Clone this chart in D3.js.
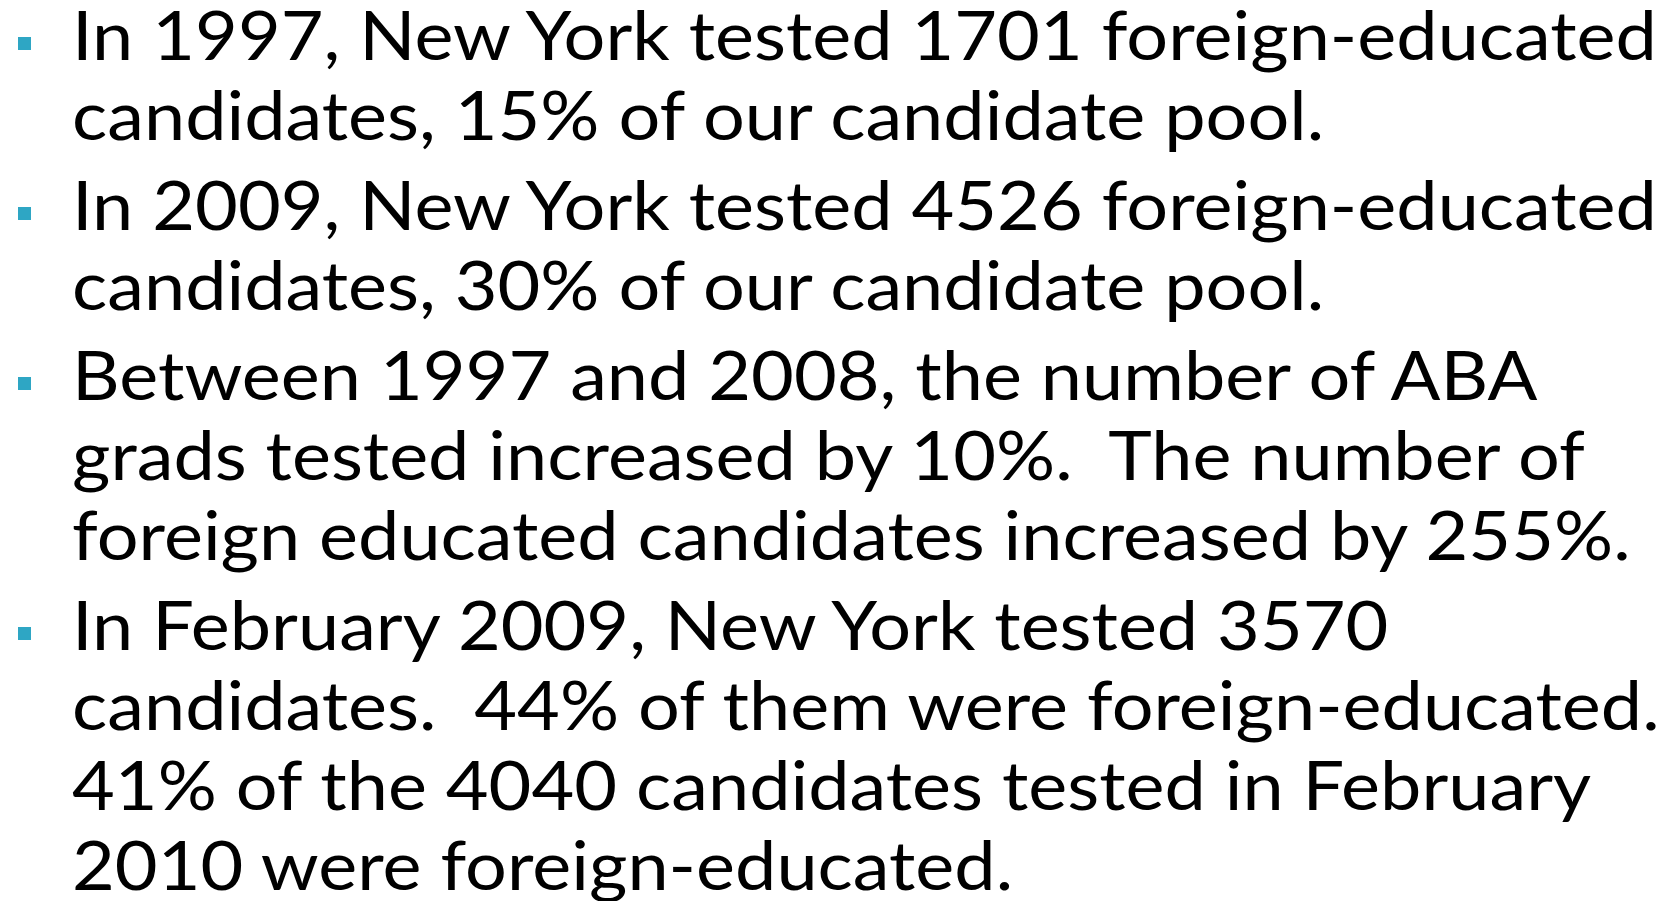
<!DOCTYPE html>
<html>
	<head>
		<style>
			html, body {
				margin: 0;
				padding: 0;
				background: #fff;
			}

			#slide {
				display: block;
			}
		</style>
	</head>
	<body>
		<svg id="slide" width="1679" height="901"></svg>
		<script src="https://cdnjs.cloudflare.com/ajax/libs/d3/7.8.5/d3.min.js"></script>

		<script>
			// each bullet is a list of its wrapped lines
			let bullet1 = [
				'In 1997, New York tested 1701 foreign-educated',
				'candidates, 15% of our candidate pool.',
			];
			let bullet2 = [
				'In 2009, New York tested 4526 foreign-educated',
				'candidates, 30% of our candidate pool.',
			];
			let bullet3 = [
				'Between 1997 and 2008, the number of ABA',
				'grads tested increased by 10%.  The number of',
				'foreign educated candidates increased by 255%.',
			];
			let bullet4 = [
				'In February 2009, New York tested 3570',
				'candidates.  44% of them were foreign-educated.',
				'41% of the 4040 candidates tested in February',
				'2010 were foreign-educated.',
			];
			let bullets = [bullet1, bullet2, bullet3, bullet4];

			let sizes = {
				fontSize: 67,
				firstBaseline: 60,
				lineStep: 80,
				bulletGap: 10,
				textLeft: 72,
				firstLineWidth: 1585,
				markLeft: 18,
				markSize: 13,
				markRaise: 23,
			};

			let colors = {
				text: '#000',
				mark: '#2ea6c4',
			};

			// flatten into rows with a running line index
			let rows = [];
			bullets.forEach((lines, b) => {
				lines.forEach((line, i) => {
					rows.push({ bullet: b, first: i === 0, text: line });
				});
			});
			rows.forEach((r, i) => (r.index = i));

			let y = d => sizes.firstBaseline + d.index * sizes.lineStep + d.bullet * sizes.bulletGap;

			let svg = d3.select('#slide');

			let text = svg
				.append('g')
				.attr('font-family', 'Lato, "Open Sans", sans-serif')
				.attr('font-size', sizes.fontSize)
				.attr('fill', colors.text)
				.selectAll('text')
				.data(rows)
				.enter()
				.append('text')
				.attr('xml:space', 'preserve')
				.style('white-space', 'pre')
				.text(d => d.text);

			// squeeze the face so the first line spans the slide like the original
			let measured = text.nodes()[0].getComputedTextLength();
			let sx = sizes.firstLineWidth / measured;

			text.attr('transform', d => `translate(${sizes.textLeft}, ${y(d)}) scale(${sx}, 1)`);

			svg.append('g')
				.selectAll('rect')
				.data(rows.filter(d => d.first))
				.enter()
				.append('rect')
				.attr('x', sizes.markLeft)
				.attr('y', d => y(d) - sizes.markRaise)
				.attr('width', sizes.markSize)
				.attr('height', sizes.markSize)
				.attr('fill', colors.mark);
		</script>
	</body>
</html>
